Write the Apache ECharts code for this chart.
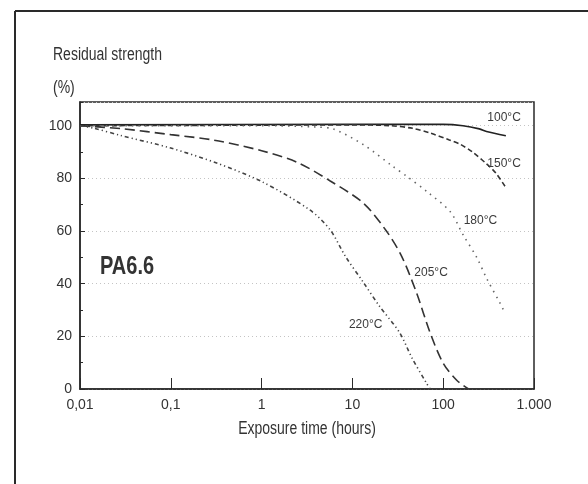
<!DOCTYPE html>
<html>
<head>
<meta charset="utf-8">
<script src="https://cdn.jsdelivr.net/npm/echarts@6/dist/echarts.min.js"></script>
<style>
  html, body { margin: 0; padding: 0; background: #fff; }
  #chart { width: 588px; height: 484px; }
</style>
</head>
<body>
<div id="chart"></div>
<script>
// exposure time (hours) vs residual strength (%)
var curve100 = [[0.01, 100.3], [10, 100.5], [100, 100.5], [165, 100], [250, 98.8], [300, 97.8], [490, 96.2]];
var curve150 = [[0.01, 100], [1, 100.2], [10, 100.3], [26, 100], [46, 99], [72, 97.2], [117, 94.6], [153, 93], [210, 90], [300, 85.5], [380, 82], [479, 77]];
var curve180 = [[0.01, 100], [1, 100], [4, 99.5], [6.2, 98.7], [13.2, 92.8], [28, 84.5], [40, 80.7], [66, 75], [119, 67.4], [166, 58.5], [234, 50], [301, 42], [423, 32.6], [479, 28.8]];
var curve205 = [[0.01, 100], [0.03, 98.8], [0.1, 96.6], [0.3, 94.5], [1, 90.5], [2.5, 86], [5.7, 79], [13.2, 70.6], [23.9, 59.8], [35, 50.3], [51, 36.4], [72, 21.2], [100, 9.8], [140, 3.4], [190, 0]];
var curve220 = [[0.01, 100], [0.014, 99.1], [0.028, 96.3], [0.1, 91.5], [0.32, 85.8], [1, 78.8], [3.4, 68], [5.7, 60.4], [8.4, 50.3], [13.2, 40.5], [20, 31.3], [33, 21.5], [45, 12], [66, 2], [72, 0]];

var seriesNames = ['100°C', '150°C', '180°C', '205°C', '220°C'];
// label anchor for each curve, in data units
var labelPos = [[468, 103], [468, 85.5], [257, 63.9], [73.5, 44.1], [14, 24.3]];
var xTickLabels = ['0,01', '0,1', '1', '10', '100', '1.000'];

var FONT = '"Liberation Sans", Arial, sans-serif';
var INK = '#2a2a2a';

var chart = echarts.init(document.getElementById('chart'));

function mkSeries(i, data, dash, color) {
    return {
        name: seriesNames[i],
        type: 'line',
        data: data,
        smooth: 0.3,
        symbol: 'none',
        lineStyle: { color: color, width: 1.6, type: dash },
        markPoint: {
            symbol: 'circle',
            symbolSize: 0,
            silent: true,
            label: {
                show: true,
                position: 'inside',
                formatter: seriesNames[i],
                color: '#3a3a3a',
                fontFamily: FONT,
                fontSize: 12
            },
            data: [{ coord: labelPos[i] }]
        }
    };
}

function title(txt, x, y, font, sy) {
    return {
        type: 'text', x: x, y: y, scaleY: sy,
        style: { text: txt, fill: '#333', font: font, verticalAlign: 'middle' }
    };
}

var option = {
    animation: false,
    backgroundColor: '#fff',
    grid: {
        left: 80, right: 54, top: 102, bottom: 95,
        show: true, borderColor: INK, borderWidth: 1.5
    },
    xAxis: {
        type: 'log',
        logBase: 10,
        min: 0.01,
        max: 1000,
        axisLine: { lineStyle: { color: INK, width: 1.5 } },
        axisTick: { inside: true, length: 11, lineStyle: { color: INK } },
        splitLine: { show: false },
        axisLabel: {
            color: '#333', fontFamily: FONT, fontSize: 14, margin: 9,
            formatter: function (v) {
                return xTickLabels[Math.round(Math.log10(v)) + 2];
            }
        }
    },
    yAxis: [{
        type: 'value',
        min: 0,
        max: 109,
        interval: 20,
        axisLine: { show: true, lineStyle: { color: INK, width: 1.5 } },
        axisTick: { show: true, inside: true, length: 5, lineStyle: { color: INK } },
        splitLine: { lineStyle: { type: [1, 3], color: '#c4c4c4', width: 1 } },
        axisLabel: { color: '#333', fontFamily: FONT, fontSize: 14, margin: 8, showMaxLabel: false }
    }, {
        type: 'value',
        position: 'left',
        min: 0,
        max: 109,
        interval: 10,
        axisLine: { show: false },
        axisTick: { show: true, inside: true, length: 3, lineStyle: { color: INK } },
        splitLine: { show: false },
        axisLabel: { show: false }
    }],
    series: [
        mkSeries(0, curve100, 'solid', '#222'),
        mkSeries(1, curve150, [5, 3], '#333'),
        mkSeries(2, curve180, [1.5, 5], '#666'),
        mkSeries(3, curve205, [10, 5], '#333'),
        mkSeries(4, curve220, [4, 3, 1.2, 3, 1.2, 3], '#444')
    ],
    graphic: [
        { type: 'line', shape: { x1: 15, y1: 11, x2: 588, y2: 11 }, style: { stroke: INK, lineWidth: 2 } },
        { type: 'line', shape: { x1: 15, y1: 11, x2: 15, y2: 484 }, style: { stroke: INK, lineWidth: 2 } },
        title('Residual strength', 53, 55, '14px ' + FONT, 1.25),
        title('(%)', 53, 88, '14px ' + FONT, 1.25),
        title('PA6.6', 100, 267, 'bold 20px ' + FONT, 1.3),
        {
            type: 'text', x: 307, y: 429, scaleY: 1.25,
            style: { text: 'Exposure time (hours)', fill: '#333', font: '14px ' + FONT, align: 'center', verticalAlign: 'middle' }
        }
    ]
};

chart.setOption(option);
window.addEventListener('resize', function () { chart.resize(); });
</script>
</body>
</html>
